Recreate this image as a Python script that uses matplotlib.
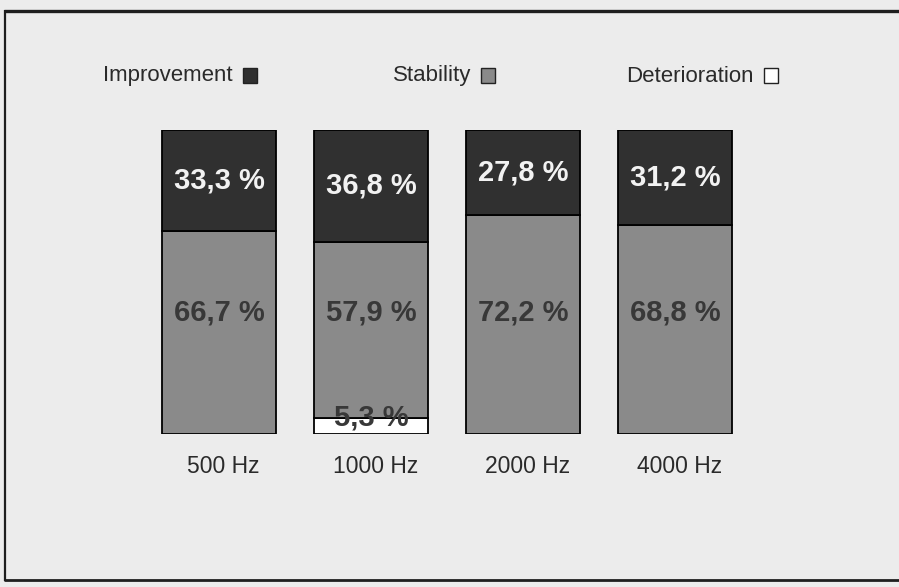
import matplotlib
matplotlib.use("Agg")
import matplotlib.pyplot as plt
from matplotlib.patches import Rectangle
from matplotlib.lines import Line2D
import numpy as np

# Hearing outcome by frequency (percent of ears)
frequencies = ["500 Hz", "1000 Hz", "2000 Hz", "4000 Hz"]
deterioration = [0.0, 5.3, 0.0, 0.0]
stability = [66.7, 57.9, 72.2, 68.8]
improvement = [33.3, 36.8, 27.8, 31.2]

DARK = "#303030"
GRAY = "#8a8a8a"
PAPER = "#ececec"
LABEL_FONT = ["Liberation Sans", "DejaVu Sans"]

W, H = 899, 587
fig = plt.figure(figsize=(W / 100, H / 100), dpi=100, facecolor=PAPER)

def fx(px):
    return px / W

def fy(py):
    return 1 - py / H

ax = fig.add_axes([fx(143), fy(434), fx(608), 304 / H])
ax.set_facecolor("none")
x = np.arange(len(frequencies))
width = 0.755

det = np.array(deterioration)
sta = np.array(stability)
imp = np.array(improvement)

ax.bar(x, det, width, color="white", edgecolor="black", linewidth=1.3)
ax.bar(x, sta, width, bottom=det, color=GRAY, edgecolor="black", linewidth=1.3)
ax.bar(x, imp, width, bottom=det + sta, color=DARK, edgecolor="black", linewidth=1.3)

def pct(v):
    return f"{v:.1f} %".replace(".", ",")

for i in range(len(frequencies)):
    ax.text(x[i], det[i] + sta[i] + imp[i] / 2, pct(imp[i]),
            ha="center", va="center", color="#f2f2f2", fontsize=21,
            fontweight="bold", family=LABEL_FONT)
    ax.text(x[i], 40, pct(sta[i]),
            ha="center", va="center", color="#383838", fontsize=21,
            fontweight="bold", family=LABEL_FONT)
    if det[i] > 0:
        ax.text(x[i], det[i], pct(det[i]),
                ha="center", va="center", color="#383838", fontsize=21,
                fontweight="bold", family=LABEL_FONT)

ax.set_xlim(-0.5, len(frequencies) - 0.5)
ax.set_ylim(0, 100)
ax.set_xticks(x + 0.03, frequencies)
ax.tick_params(axis="x", length=0, pad=15, labelsize=16.5, labelcolor="#2a2a2a")
for lab in ax.get_xticklabels():
    lab.set_family(LABEL_FONT)
ax.set_yticks([])
for s in ax.spines.values():
    s.set_visible(False)

# Legend row: label followed by a swatch
legend_items = [("Improvement", DARK, 243), ("Stability", GRAY, 481), ("Deterioration", "white", 764)]
for text, color, box_left in legend_items:
    fig.text(fx(box_left - 10), fy(76), text, ha="right", va="center",
             fontsize=16, color="#2a2a2a", family=LABEL_FONT)
    fig.add_artist(Rectangle((fx(box_left), fy(83)), fx(14), 15 / H,
                             transform=fig.transFigure, facecolor=color,
                             edgecolor="#222222", linewidth=1.0))

# Outer frame
frame_kw = dict(transform=fig.transFigure, color="#1e1e1e", solid_capstyle="butt")
fig.add_artist(Line2D([fx(4), 1.0], [fy(11), fy(11)], linewidth=2.4, **frame_kw))
fig.add_artist(Line2D([fx(5), fx(5)], [fy(10), fy(581)], linewidth=1.6, **frame_kw))
fig.add_artist(Line2D([fx(4), 1.0], [fy(580), fy(580)], linewidth=2.0, **frame_kw))

fig.savefig("out.png", dpi=100, facecolor=PAPER)
